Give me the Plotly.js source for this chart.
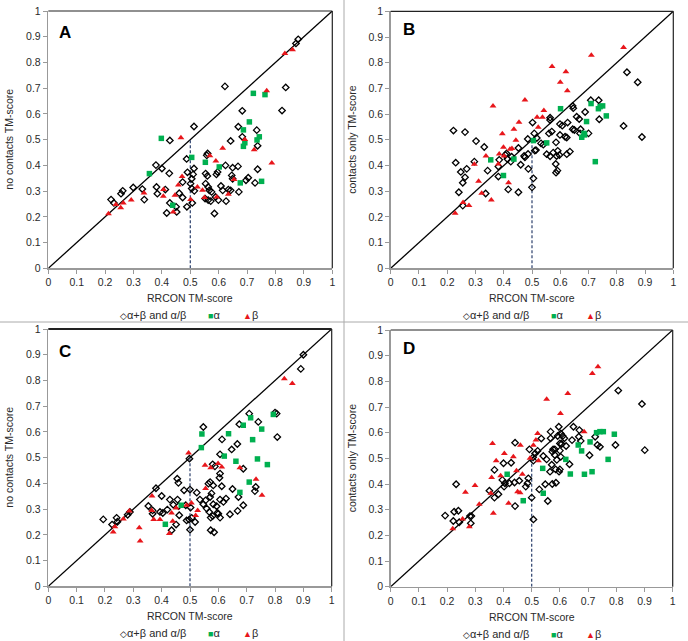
<!DOCTYPE html>
<html>
<head>
<meta charset="utf-8">
<script src="https://cdn.plot.ly/plotly-3.0.1.min.js"></script>
<style>html,body{margin:0;padding:0;background:#fff;}#chart{width:688px;height:641px;}</style>
</head>
<body>
<div id="chart"></div>
<script>
// ---------- reference lines ----------
const diagX = [0, 1];
const diagY = [0, 1];
const cutX = [0.5, 0.5];
const cutY = [0, 0.5];

// ---------- Panel A: RRCON vs no contacts ----------
const aMixX = [0.88,0.872,0.622,0.836,0.823,0.683,0.513,0.669,0.734,0.683,0.642,0.428,0.737,0.487,0.561,0.558,0.379,0.4,0.426,0.513,0.624,0.649,0.668,0.737,0.49,0.51,0.554,0.56,0.596,0.592,0.505,0.646,0.649,0.704,0.696,0.728,0.473,0.299,0.262,0.256,0.221,0.231,0.331,0.338,0.381,0.384,0.412,0.461,0.473,0.501,0.505,0.514,0.554,0.563,0.567,0.575,0.608,0.614,0.634,0.642,0.671,0.552,0.563,0.572,0.589,0.599,0.626,0.507,0.488,0.45,0.452,0.417,0.585,0.428];
const aMixY = [0.89,0.874,0.707,0.703,0.613,0.612,0.551,0.55,0.537,0.511,0.495,0.497,0.476,0.425,0.446,0.439,0.401,0.388,0.369,0.388,0.4,0.391,0.396,0.385,0.373,0.365,0.368,0.359,0.374,0.365,0.348,0.361,0.348,0.352,0.342,0.332,0.335,0.314,0.301,0.29,0.267,0.254,0.308,0.267,0.316,0.29,0.306,0.292,0.275,0.329,0.31,0.301,0.329,0.316,0.303,0.297,0.32,0.303,0.306,0.303,0.297,0.271,0.265,0.261,0.277,0.265,0.261,0.254,0.239,0.239,0.219,0.215,0.213,0.254];
const aAlphaX = [0.722,0.763,0.708,0.687,0.743,0.735,0.692,0.687,0.398,0.505,0.553,0.602,0.356,0.676,0.751,0.438];
const aAlphaY = [0.68,0.675,0.569,0.538,0.511,0.499,0.488,0.474,0.505,0.431,0.412,0.394,0.368,0.332,0.338,0.245];
const aBetaX = [0.833,0.86,0.769,0.467,0.614,0.692,0.725,0.787,0.569,0.59,0.471,0.458,0.654,0.406,0.337,0.405,0.446,0.525,0.543,0.593,0.634,0.55,0.501,0.292,0.264,0.255,0.238,0.44,0.212];
const aBetaY = [0.835,0.849,0.69,0.507,0.467,0.501,0.461,0.409,0.437,0.417,0.357,0.324,0.345,0.306,0.293,0.28,0.284,0.316,0.303,0.277,0.288,0.275,0.267,0.265,0.254,0.235,0.248,0.219,0.212];

// ---------- Panel B: RRCON vs contacts only ----------
const bMixX = [0.836,0.874,0.824,0.889,0.708,0.736,0.738,0.644,0.646,0.658,0.667,0.688,0.564,0.564,0.599,0.607,0.626,0.502,0.644,0.65,0.672,0.67,0.7,0.57,0.56,0.508,0.517,0.485,0.599,0.617,0.623,0.585,0.532,0.54,0.222,0.263,0.302,0.331,0.41,0.406,0.452,0.428,0.413,0.384,0.381,0.472,0.475,0.486,0.51,0.514,0.552,0.564,0.575,0.587,0.591,0.597,0.623,0.634,0.584,0.585,0.59,0.487,0.505,0.5,0.46,0.425,0.23,0.248,0.263,0.255,0.269,0.296,0.343,0.381,0.241,0.255,0.336,0.416,0.452];
const bMixY = [0.763,0.724,0.554,0.511,0.654,0.654,0.58,0.632,0.623,0.59,0.581,0.608,0.586,0.577,0.561,0.555,0.567,0.567,0.541,0.538,0.541,0.525,0.525,0.532,0.525,0.525,0.507,0.503,0.519,0.512,0.509,0.49,0.486,0.481,0.536,0.53,0.495,0.472,0.447,0.441,0.468,0.434,0.425,0.422,0.396,0.437,0.432,0.445,0.458,0.46,0.444,0.436,0.45,0.437,0.457,0.441,0.444,0.454,0.406,0.372,0.38,0.387,0.35,0.315,0.403,0.415,0.411,0.375,0.354,0.333,0.387,0.415,0.38,0.357,0.296,0.244,0.291,0.307,0.296];
const bAlphaX = [0.709,0.735,0.75,0.741,0.763,0.601,0.693,0.684,0.676,0.686,0.505,0.552,0.436,0.354,0.399,0.724];
const bAlphaY = [0.641,0.621,0.632,0.629,0.593,0.621,0.571,0.525,0.51,0.519,0.497,0.488,0.425,0.422,0.361,0.415];
const bBetaX = [0.824,0.71,0.571,0.62,0.6,0.625,0.475,0.362,0.542,0.537,0.518,0.454,0.436,0.522,0.395,0.443,0.399,0.422,0.429,0.384,0.337,0.401,0.381,0.296,0.311,0.417,0.322,0.356,0.256,0.277,0.228];
const bBetaY = [0.859,0.829,0.785,0.765,0.724,0.691,0.655,0.632,0.614,0.588,0.588,0.568,0.541,0.549,0.524,0.498,0.471,0.463,0.466,0.445,0.437,0.437,0.406,0.405,0.339,0.333,0.292,0.266,0.256,0.244,0.214];

// ---------- Panel C: RRCON vs no contacts ----------
const cMixX = [0.9,0.891,0.806,0.8,0.709,0.674,0.741,0.808,0.547,0.613,0.667,0.647,0.606,0.688,0.498,0.58,0.588,0.455,0.459,0.606,0.604,0.571,0.565,0.582,0.612,0.65,0.38,0.479,0.5,0.524,0.576,0.729,0.732,0.4,0.429,0.456,0.535,0.555,0.571,0.606,0.627,0.618,0.671,0.688,0.668,0.353,0.368,0.368,0.394,0.404,0.42,0.441,0.46,0.485,0.502,0.547,0.559,0.568,0.582,0.594,0.6,0.606,0.596,0.641,0.573,0.58,0.462,0.488,0.497,0.518,0.506,0.451,0.435,0.5,0.573,0.585,0.194,0.241,0.244,0.225,0.288,0.28];
const cMixY = [0.9,0.845,0.671,0.675,0.671,0.63,0.639,0.58,0.619,0.571,0.553,0.532,0.513,0.457,0.496,0.474,0.466,0.418,0.402,0.438,0.422,0.405,0.399,0.392,0.389,0.378,0.381,0.373,0.376,0.364,0.361,0.37,0.386,0.351,0.337,0.337,0.337,0.334,0.347,0.337,0.341,0.328,0.347,0.315,0.293,0.312,0.282,0.295,0.289,0.285,0.298,0.317,0.312,0.315,0.306,0.319,0.302,0.289,0.319,0.311,0.282,0.267,0.285,0.28,0.267,0.273,0.276,0.256,0.259,0.25,0.266,0.24,0.218,0.22,0.218,0.21,0.26,0.266,0.251,0.24,0.289,0.278];
const cAlphaX = [0.714,0.794,0.688,0.753,0.636,0.542,0.54,0.721,0.621,0.662,0.738,0.773,0.709,0.676,0.469,0.413];
const cAlphaY = [0.655,0.668,0.626,0.611,0.593,0.592,0.539,0.57,0.506,0.486,0.495,0.473,0.405,0.365,0.315,0.241];
const cBetaX = [0.833,0.861,0.495,0.553,0.573,0.599,0.612,0.676,0.733,0.754,0.366,0.365,0.372,0.394,0.435,0.451,0.439,0.505,0.488,0.527,0.52,0.555,0.265,0.286,0.235,0.229,0.321,0.324,0.427];
const cBetaY = [0.807,0.788,0.518,0.47,0.461,0.477,0.464,0.461,0.416,0.354,0.351,0.295,0.26,0.26,0.285,0.304,0.253,0.324,0.315,0.295,0.275,0.38,0.262,0.293,0.231,0.211,0.228,0.176,0.205];

// ---------- Panel D: RRCON vs contacts only ----------
const dMixX = [0.807,0.891,0.901,0.797,0.596,0.648,0.567,0.669,0.603,0.61,0.616,0.592,0.667,0.725,0.534,0.567,0.643,0.674,0.6,0.606,0.733,0.742,0.441,0.576,0.573,0.582,0.521,0.512,0.492,0.6,0.622,0.705,0.541,0.553,0.582,0.589,0.603,0.505,0.506,0.634,0.571,0.585,0.6,0.597,0.565,0.4,0.427,0.368,0.396,0.405,0.421,0.439,0.456,0.485,0.479,0.488,0.402,0.35,0.382,0.368,0.548,0.527,0.573,0.586,0.232,0.441,0.5,0.557,0.506,0.193,0.225,0.24,0.222,0.243,0.281,0.286,0.284];
const dMixY = [0.764,0.712,0.532,0.552,0.623,0.623,0.604,0.61,0.597,0.587,0.578,0.587,0.584,0.584,0.577,0.578,0.571,0.568,0.558,0.556,0.552,0.545,0.561,0.535,0.526,0.535,0.529,0.519,0.535,0.53,0.548,0.512,0.509,0.496,0.513,0.494,0.506,0.504,0.491,0.477,0.475,0.457,0.457,0.448,0.448,0.481,0.483,0.455,0.416,0.403,0.403,0.406,0.413,0.403,0.39,0.422,0.39,0.374,0.36,0.347,0.399,0.379,0.4,0.405,0.399,0.314,0.347,0.334,0.262,0.277,0.292,0.296,0.256,0.251,0.275,0.275,0.247];
const dAlphaX = [0.754,0.742,0.73,0.793,0.707,0.665,0.677,0.621,0.771,0.539,0.637,0.687,0.714,0.413,0.541,0.47];
const dAlphaY = [0.604,0.604,0.6,0.594,0.564,0.552,0.529,0.496,0.496,0.461,0.439,0.438,0.448,0.438,0.364,0.335];
const dBetaX = [0.735,0.715,0.628,0.553,0.602,0.521,0.686,0.515,0.506,0.361,0.46,0.403,0.435,0.374,0.524,0.494,0.446,0.467,0.39,0.358,0.299,0.265,0.355,0.45,0.459,0.314,0.418,0.364,0.255,0.279,0.22];
const dBetaY = [0.857,0.831,0.753,0.73,0.675,0.597,0.604,0.571,0.551,0.558,0.551,0.519,0.506,0.491,0.491,0.5,0.452,0.438,0.432,0.425,0.394,0.368,0.364,0.37,0.366,0.321,0.325,0.286,0.264,0.234,0.226];

// ---------- text ----------
const panelLabels = ['A', 'B', 'C', 'D'];
const xTitle = 'RRCON TM-score';
const yTitles = ['no contacts TM-score', 'contacts only TM-score', 'no contacts TM-score', 'contacts only TM-score'];
const legendNames = ['α+β and α/β', 'α', 'β'];

// ---------- styling / geometry ----------
const W = 688, H = 641;
const FONT = '"Liberation Sans", Arial, sans-serif';
const GREEN = '#00b050', RED = '#e8161b';
// plot area pixel boxes [left, right, top, bottom]
const boxes = [
  [48.3, 332.3, 11, 268.3],
  [390.7, 673.3, 11.3, 268.3],
  [48.3, 331.7, 329, 586.3],
  [390.7, 672.7, 330, 586.7]
];
const sets = [
  [aMixX, aMixY, aAlphaX, aAlphaY, aBetaX, aBetaY],
  [bMixX, bMixY, bAlphaX, bAlphaY, bBetaX, bBetaY],
  [cMixX, cMixY, cAlphaX, cAlphaY, cBetaX, cBetaY],
  [dMixX, dMixY, dAlphaX, dAlphaY, dBetaX, dBetaY]
];
const px = v => v / W;
const py = v => 1 - v / H;

const traces = [];
const layout = {
  width: W, height: H,
  margin: {l: 0, r: 0, t: 0, b: 0},
  paper_bgcolor: '#fff', plot_bgcolor: '#fff',
  showlegend: false,
  font: {family: FONT, size: 11, color: '#333'},
  shapes: [], annotations: []
};

boxes.forEach((b, i) => {
  const n = i === 0 ? '' : String(i + 1);
  const xa = 'x' + n, ya = 'y' + n;
  const [mx, my, gx, gy, rx, ry] = sets[i];
  traces.push({x: diagX, y: diagY, xaxis: xa, yaxis: ya, mode: 'lines', line: {color: '#000', width: 1.3}, hoverinfo: 'skip'});
  traces.push({x: cutX, y: cutY, xaxis: xa, yaxis: ya, mode: 'lines', line: {color: '#2a3f6b', width: 1.2, dash: '3px,2px'}, hoverinfo: 'skip'});
  traces.push({x: mx, y: my, xaxis: xa, yaxis: ya, mode: 'markers', name: legendNames[0],
    marker: {symbol: 'diamond-open', size: 5, color: '#000', line: {width: 1.3, color: '#000'}}, cliponaxis: false});
  traces.push({x: gx, y: gy, xaxis: xa, yaxis: ya, mode: 'markers', name: legendNames[1],
    marker: {symbol: 'square', size: 5.5, color: GREEN}, cliponaxis: false});
  traces.push({x: rx, y: ry, xaxis: xa, yaxis: ya, mode: 'markers', name: legendNames[2],
    marker: {symbol: 'triangle-up', size: 6, color: RED}, cliponaxis: false});

  const axCommon = {
    range: [0, 1], dtick: 0.1, tick0: 0, showgrid: false, zeroline: false,
    showline: true, linecolor: '#999', linewidth: 1.5,
    ticks: 'outside', ticklen: 4, tickwidth: 1, tickcolor: '#999',
    tickfont: {family: FONT, size: 10.5, color: '#2a2a2a'}, fixedrange: true
  };
  layout['xaxis' + n] = Object.assign({}, axCommon, {domain: [px(b[0]), px(b[1])], anchor: ya});
  layout['yaxis' + n] = Object.assign({}, axCommon, {domain: [py(b[3]), py(b[2])], anchor: xa});

  // top and right frame
  const frameW = i === 2 ? 2.2 : 1.2;
  layout.shapes.push({type: 'line', xref: xa + ' domain', yref: ya + ' domain', x0: 0, x1: 1, y0: 1, y1: 1, line: {color: '#222', width: frameW}});
  layout.shapes.push({type: 'line', xref: xa + ' domain', yref: ya + ' domain', x0: 1, x1: 1, y0: 0, y1: 1, line: {color: '#222', width: 1.2}});

  const cx = (b[0] + b[1]) / 2;
  // x title
  layout.annotations.push({xref: 'paper', yref: 'paper', x: px(cx), y: py(b[3] + 30), text: xTitle, showarrow: false,
    xanchor: 'center', yanchor: 'middle', font: {family: FONT, size: 10.5, color: '#2a2a2a'}});
  // y title
  const yx = i % 2 === 0 ? 9 : 352;
  layout.annotations.push({xref: 'paper', yref: 'paper', x: px(yx), y: py((b[2] + b[3]) / 2), text: yTitles[i], showarrow: false,
    textangle: -90, xanchor: 'center', yanchor: 'middle', font: {family: FONT, size: 10.5, color: '#2a2a2a'}});
  // panel label
  const lx = i % 2 === 0 ? 65 : 409;
  const ly = i % 2 === 0 ? b[2] + 22 : b[2] + 18;
  layout.annotations.push({xref: 'paper', yref: 'paper', x: px(lx), y: py(ly), text: '<b>' + panelLabels[i] + '</b>', showarrow: false,
    xanchor: 'center', yanchor: 'middle', font: {family: FONT, size: 17, color: '#000'}});
  // legend row
  const off = i % 2 === 0 ? 0 : 343;
  const legY = b[3] + 47;
  const legItems = [
    [118 + off, '<span style="font-size:9px;color:#000">◇</span>' + legendNames[0]],
    [206 + off, '<span style="font-size:9px;color:' + GREEN + '">■</span>' + legendNames[1]],
    [241 + off, '<span style="font-size:9px;color:' + RED + '">▲</span>' + legendNames[2]]
  ];
  legItems.forEach(([x, t]) => {
    layout.annotations.push({xref: 'paper', yref: 'paper', x: px(x), y: py(legY), text: t, showarrow: false,
      xanchor: 'left', yanchor: 'middle', font: {family: FONT, size: 11, color: '#2a2a2a'}});
  });
});

// panel dividers
layout.shapes.push({type: 'line', xref: 'paper', yref: 'paper', x0: px(344), x1: px(344), y0: 0, y1: 1, line: {color: '#aaa', width: 1}});
layout.shapes.push({type: 'line', xref: 'paper', yref: 'paper', x0: 0, x1: 1, y0: py(322), y1: py(322), line: {color: '#aaa', width: 1}});

Plotly.newPlot('chart', traces, layout, {staticPlot: true, displayModeBar: false});
</script>
</body>
</html>
